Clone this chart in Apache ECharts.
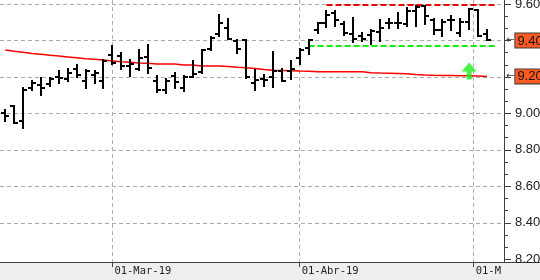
<!DOCTYPE html>
<html>
<head>
<meta charset="utf-8">
<script src="https://cdn.jsdelivr.net/npm/echarts@6/dist/echarts.min.js"></script>
<style>
  html, body { margin: 0; padding: 0; background: #ffffff; }
  #chart { width: 540px; height: 280px; }
</style>
</head>
<body>
<div id="chart"></div>
<script>
// ---- data ----
const dates = [
  '2019-02-13','2019-02-14','2019-02-15','2019-02-18','2019-02-19','2019-02-20','2019-02-21','2019-02-22',
  '2019-02-25','2019-02-26','2019-02-27','2019-02-28',
  '2019-03-01','2019-03-04','2019-03-05','2019-03-06','2019-03-07','2019-03-08','2019-03-11','2019-03-12',
  '2019-03-13','2019-03-14','2019-03-15','2019-03-18','2019-03-19','2019-03-20','2019-03-21','2019-03-22',
  '2019-03-25','2019-03-26','2019-03-27','2019-03-28','2019-03-29',
  '2019-04-01','2019-04-02','2019-04-03','2019-04-04','2019-04-05','2019-04-08','2019-04-09','2019-04-10',
  '2019-04-11','2019-04-12','2019-04-15','2019-04-16','2019-04-17','2019-04-18','2019-04-23','2019-04-24',
  '2019-04-25','2019-04-26','2019-04-29','2019-04-30',
  '2019-05-02','2019-05-03'
];
const opens = [
  9.00, 9.04, 8.96, 9.14, 9.155, 9.16, 9.20, 9.19, 9.245, 9.18, 9.21, 9.175,
  9.32, 9.315, 9.26, 9.245, 9.31, 9.18, 9.13, 9.205, 9.14, 9.20, 9.225, 9.355,
  9.435, 9.47, 9.395, 9.40, 9.165, 9.19, 9.20, 9.23, 9.23,
  9.305, 9.36, 9.46, 9.495, 9.55, 9.49, 9.435, 9.425, 9.43, 9.445, 9.495, 9.495,
  9.49, 9.56, 9.59, 9.51, 9.455, 9.51, 9.44, 9.50,
  9.565, 9.435
];
const highs = [
  9.02, 9.04, 9.14, 9.18, 9.195, 9.195, 9.235, 9.245, 9.265, 9.24, 9.23, 9.295,
  9.37, 9.33, 9.295, 9.35, 9.375, 9.205, 9.19, 9.22, 9.205, 9.285, 9.35, 9.42,
  9.54, 9.52, 9.40, 9.40, 9.24, 9.21, 9.335, 9.245, 9.285,
  9.355, 9.405, 9.495, 9.56, 9.56, 9.50, 9.525, 9.44, 9.46, 9.515, 9.52, 9.55,
  9.58, 9.59, 9.59, 9.52, 9.51, 9.535, 9.52, 9.575,
  9.565, 9.455
];
const lows = [
  8.96, 8.945, 8.92, 9.13, 9.10, 9.15, 9.165, 9.18, 9.20, 9.14, 9.165, 9.14,
  9.27, 9.245, 9.205, 9.24, 9.22, 9.115, 9.11, 9.14, 9.125, 9.20, 9.22, 9.35,
  9.425, 9.41, 9.33, 9.195, 9.13, 9.15, 9.145, 9.175, 9.19,
  9.27, 9.325, 9.44, 9.475, 9.48, 9.43, 9.39, 9.395, 9.38, 9.395, 9.47, 9.47,
  9.48, 9.48, 9.49, 9.435, 9.425, 9.455, 9.425, 9.465,
  9.425, 9.40
];
const closes = [
  8.985, 8.95, 9.13, 9.165, 9.14, 9.19, 9.195, 9.22, 9.21, 9.23, 9.22, 9.29,
  9.275, 9.26, 9.27, 9.305, 9.25, 9.13, 9.18, 9.17, 9.20, 9.215, 9.35, 9.415,
  9.495, 9.41, 9.355, 9.20, 9.185, 9.185, 9.23, 9.18, 9.245,
  9.35, 9.40, 9.495, 9.54, 9.515, 9.44, 9.41, 9.41, 9.45, 9.47, 9.495, 9.495,
  9.56, 9.585, 9.535, 9.46, 9.50, 9.51, 9.50, 9.575,
  9.425, 9.40
];
const movingAverage = [
  9.348, 9.341, 9.335, 9.328, 9.324, 9.319, 9.315, 9.310, 9.305, 9.300, 9.297, 9.293,
  9.288, 9.283, 9.280, 9.277, 9.275, 9.271, 9.271, 9.271, 9.266, 9.265, 9.260, 9.260,
  9.260, 9.257, 9.253, 9.251, 9.246, 9.241, 9.237, 9.236, 9.234,
  9.232, 9.231, 9.229, 9.229, 9.229, 9.229, 9.229, 9.228, 9.223, 9.221, 9.220, 9.219,
  9.218, 9.214, 9.211, 9.209, 9.208, 9.208, 9.207, 9.207,
  9.205, 9.203
];
const resistanceLevel = 9.595;
const resistanceSpan = [36, 55];
const supportLevel = 9.37;
const supportSpan = [34, 55];
const signalBar = 52;
const signalPrice = 9.2325;
const yTickValues = [8.20, 8.40, 8.60, 8.80, 9.00, 9.20, 9.40, 9.60];
const xTickMonths = ['2019-03-01', '2019-04-01', '2019-05-01'];
const xTickLabels = ['01-Mar-19', '01-Abr-19', '01-M'];

// ---- derived ----
const xTickPos = xTickMonths.map(m => {
  const idx = dates.findIndex(d => d >= m);
  return dates[idx] === m ? idx : idx - 0.5;
});
const minorTicks = [];
for (let k = 0; k < yTickValues.length - 1; k++) {
  const a = yTickValues[k], b = yTickValues[k + 1];
  minorTicks.push(a + (b - a) / 3, a + 2 * (b - a) / 3);
}
const ohlc = dates.map((d, i) => [i, opens[i], closes[i], lows[i], highs[i]]);
const maData = movingAverage.map((v, i) => [i, v]);
const lastClose = closes[closes.length - 1];
const lastMA = movingAverage[movingAverage.length - 1];
const splitColors = yTickValues.map((v, k) => k === 0 ? 'rgba(0,0,0,0)' : '#ababab');

const Y_MIN = 8.185, Y_MAX = 9.622;
const X_MIN = -0.6, X_MAX = 55.9;

const chart = echarts.init(document.getElementById('chart'), null, { renderer: 'canvas' });

chart.setOption({
  animation: false,
  backgroundColor: '#ffffff',
  grid: { left: 0, right: 36, top: 0, bottom: 18, containLabel: false, outerBoundsMode: 'none' },
  graphic: [
    { type: 'rect', z: -10, shape: { x: 0, y: 262, width: 540, height: 18 }, style: { fill: '#f0edf0' } },
    { type: 'line', z: -5, shape: { x1: 504, y1: 262.5, x2: 540, y2: 262.5 }, style: { stroke: '#404040', lineWidth: 1 } }
  ],
  xAxis: {
    type: 'value', min: X_MIN, max: X_MAX,
    axisLine: { show: true, onZero: false, lineStyle: { color: '#404040', width: 1 } },
    axisTick: { show: true, length: 5, customValues: xTickPos, lineStyle: { color: '#404040' } },
    axisLabel: {
      show: true, customValues: xTickPos, align: 'left', margin: 4,
      padding: [0, 0, 0, 2],
      fontFamily: 'DejaVu Sans Mono', fontSize: 10.5, color: '#222',
      formatter: v => xTickLabels[xTickPos.indexOf(v)] || ''
    },
    splitLine: { show: true, lineStyle: { color: '#b0b0b0', type: [4, 3], width: 1 } }
  },
  yAxis: [
    {
      type: 'value', position: 'right', min: Y_MIN, max: Y_MAX,
      axisLine: { show: true, onZero: false, lineStyle: { color: '#404040', width: 1 } },
      axisTick: { show: true, length: 7, customValues: yTickValues, lineStyle: { color: '#404040' } },
      axisLabel: {
        show: true, customValues: yTickValues, margin: 11,
        fontFamily: 'Liberation Sans', fontSize: 13, color: '#222',
        formatter: v => v.toFixed(2)
      },
      splitLine: { show: true, lineStyle: { color: splitColors, type: [4, 3], width: 1 } }
    },
    {
      type: 'value', position: 'right', min: Y_MIN, max: Y_MAX,
      axisLine: { show: false, onZero: false },
      axisTick: { show: true, length: 4, customValues: minorTicks, lineStyle: { color: '#404040' } },
      axisLabel: { show: false },
      splitLine: { show: false }
    },
    {
      type: 'value', position: 'right', min: Y_MIN, max: Y_MAX, z: 10,
      axisLine: { show: false, onZero: false },
      axisTick: { show: false },
      splitLine: { show: false },
      axisLabel: {
        show: true, customValues: [lastClose, lastMA], margin: 2,
        formatter: v => '{a|\u2190}{b|' + v.toFixed(2) + '}',
        rich: {
          a: { fontFamily: 'DejaVu Sans', fontSize: 10, color: '#333', padding: [0, 1, 0, 0] },
          b: {
            fontFamily: 'Liberation Sans', fontSize: 13, lineHeight: 13, color: '#111',
            backgroundColor: '#ff5a22', borderColor: '#3a3a3a', borderWidth: 1,
            padding: [1, 3, 0, 2]
          }
        }
      }
    }
  ],
  series: [
    {
      name: 'MA', type: 'line', data: maData, symbol: 'none', z: 3,
      lineStyle: { color: '#ff0000', width: 1.5 }
    },
    {
      name: 'Resistance', type: 'line', symbol: 'none', z: 4,
      data: resistanceSpan.map(x => [x, resistanceLevel]),
      lineStyle: { color: '#ee0000', width: 2, type: [6, 3] }
    },
    {
      name: 'Support', type: 'line', symbol: 'none', z: 4,
      data: supportSpan.map(x => [x, supportLevel]),
      lineStyle: { color: '#11ee11', width: 2, type: [6, 3] }
    },
    {
      name: 'OHLC', type: 'custom', z: 5,
      data: ohlc,
      encode: { x: 0, y: [1, 2, 3, 4] },
      renderItem: (params, api) => {
        const i = api.value(0);
        const o = api.coord([i, api.value(1)]);
        const c = api.coord([i, api.value(2)]);
        const l = api.coord([i, api.value(3)]);
        const h = api.coord([i, api.value(4)]);
        const x = Math.round(h[0]);
        const st = { stroke: '#000000', lineWidth: 2 };
        return {
          type: 'group',
          children: [
            { type: 'line', shape: { x1: x, y1: Math.round(h[1]) - 1, x2: x, y2: Math.round(l[1]) + 1 }, style: st },
            { type: 'line', shape: { x1: x - 4, y1: Math.round(o[1]), x2: x, y2: Math.round(o[1]) }, style: st },
            { type: 'line', shape: { x1: x, y1: Math.round(c[1]), x2: x + 4, y2: Math.round(c[1]) }, style: st }
          ]
        };
      }
    },
    {
      name: 'Signal', type: 'scatter', z: 6,
      data: [[signalBar, signalPrice]],
      symbol: 'path://M7.5,0 L15,9 L10,9 L10,17 L5,17 L5,9 L0,9 Z',
      symbolSize: [15, 17],
      itemStyle: { color: '#19f019' }
    }
  ]
});
</script>
</body>
</html>
